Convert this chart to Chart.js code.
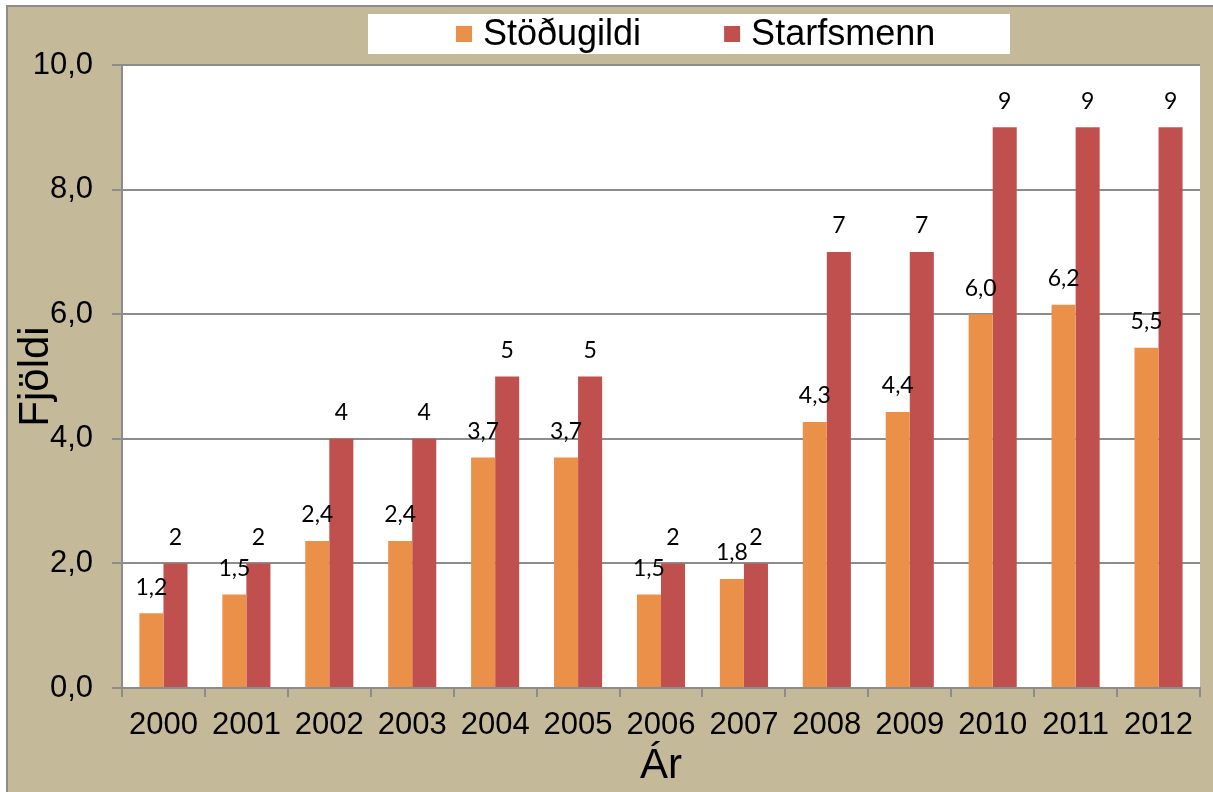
<!DOCTYPE html>
<html lang="is">
<head>
    <meta charset="UTF-8">
    <title>Stöðugildi og starfsmenn</title>
    <script src="https://cdn.jsdelivr.net/npm/chart.js"></script>
    <style>
        html, body {
            margin: 0;
            padding: 0;
            background: #ffffff;
        }
        canvas {
            display: block;
        }
    </style>
</head>
<body>
    <canvas id="chart" width="1213" height="792"></canvas>

    <script>
        // gögn lesin af myndinni
        const years = ['2000', '2001', '2002', '2003', '2004', '2005', '2006', '2007', '2008', '2009', '2010', '2011', '2012'];
        const stodugildi = [1.2, 1.5, 2.36, 2.36, 3.7, 3.7, 1.5, 1.75, 4.27, 4.43, 6.0, 6.15, 5.46];
        const starfsmenn = [2, 2, 4, 4, 5, 5, 2, 2, 7, 7, 9, 9, 9];
        const seriesNames = ['Stöðugildi', 'Starfsmenn'];

        const tan = '#c4ba9a';
        const gray = '#8c8c8c';
        const orange = '#eb9049';
        const red = '#c0504d';

        const comma = (v, d) => v.toFixed(d).replace('.', ',');

        // bakgrunnur, hvítur teiknireitur og skýringarkassi
        const backgroundPlugin = {
            id: 'background',
            beforeDraw(chart) {
                const ctx = chart.ctx;
                const area = chart.chartArea;
                ctx.save();
                ctx.fillStyle = '#ffffff';
                ctx.fillRect(0, 0, chart.width, chart.height);
                ctx.fillStyle = tan;
                ctx.fillRect(7, 6, chart.width - 7, chart.height - 6);
                ctx.strokeStyle = gray;
                ctx.lineWidth = 2;
                ctx.beginPath();
                ctx.moveTo(7, chart.height);
                ctx.lineTo(7, 6);
                ctx.lineTo(chart.width, 6);
                ctx.stroke();
                ctx.fillStyle = '#ffffff';
                ctx.fillRect(area.left, area.top, area.right - area.left, area.bottom - area.top);
                ctx.restore();
            }
        };

        // skýringar teiknaðar í hvítum kassa efst
        const legendPlugin = {
            id: 'boxLegend',
            afterDraw(chart) {
                const ctx = chart.ctx;
                const box = {left: 368, top: 14, right: 1010, bottom: 54};
                ctx.save();
                ctx.fillStyle = '#ffffff';
                ctx.fillRect(box.left, box.top, box.right - box.left, box.bottom - box.top);
                ctx.font = '36px "Liberation Sans", Arial, sans-serif';
                ctx.textBaseline = 'middle';
                ctx.textAlign = 'left';
                const sw = 16, gapText = 11, gapItem = 83;
                let x = 456;
                const cy = (box.top + box.bottom) / 2;
                chart.data.datasets.forEach(ds => {
                    ctx.fillStyle = ds.backgroundColor;
                    ctx.fillRect(x, cy - sw / 2, sw, sw);
                    ctx.fillStyle = '#000000';
                    ctx.fillText(ds.label, x + sw + gapText, cy + 1);
                    x += sw + gapText + ctx.measureText(ds.label).width + gapItem;
                });
                ctx.restore();
            }
        };

        // gildi fyrir ofan súlurnar
        const valueLabels = {
            id: 'valueLabels',
            afterDatasetsDraw(chart) {
                const ctx = chart.ctx;
                ctx.save();
                ctx.font = '23px Lato, "Noto Sans", sans-serif';
                ctx.fillStyle = '#000000';
                ctx.textAlign = 'center';
                ctx.textBaseline = 'middle';
                chart.data.datasets.forEach((ds, i) => {
                    const meta = chart.getDatasetMeta(i);
                    meta.data.forEach((bar, j) => {
                        const text = i === 0 ? comma(ds.data[j], 1) : String(ds.data[j]);
                        ctx.fillText(text, bar.x, bar.y - 26);
                    });
                });
                ctx.restore();
            }
        };

        new Chart(document.getElementById('chart'), {
            type: 'bar',
            data: {
                labels: years,
                datasets: [
                    {label: seriesNames[0], data: stodugildi, backgroundColor: orange},
                    {label: seriesNames[1], data: starfsmenn, backgroundColor: red}
                ]
            },
            options: {
                responsive: false,
                animation: false,
                devicePixelRatio: 1,
                layout: {padding: {top: 65, right: 13, left: 0, bottom: 0}},
                datasets: {
                    bar: {categoryPercentage: 0.58, barPercentage: 1.0}
                },
                plugins: {
                    legend: {display: false},
                    tooltip: {enabled: false}
                },
                scales: {
                    x: {
                        afterFit(scale) { scale.height = 104; },
                        grid: {
                            display: true,
                            drawOnChartArea: false,
                            drawTicks: true,
                            tickLength: 9,
                            offset: true,
                            color: gray,
                            lineWidth: 2
                        },
                        border: {display: true, color: gray, width: 2},
                        ticks: {
                            color: '#000000',
                            padding: 10,
                            maxRotation: 0,
                            font: {family: '"Liberation Sans", Arial, sans-serif', size: 31}
                        },
                        title: {
                            display: true,
                            text: 'Ár',
                            color: '#000000',
                            padding: {top: 0, bottom: 0},
                            font: {family: '"Liberation Sans", Arial, sans-serif', size: 42}
                        }
                    },
                    y: {
                        min: 0,
                        max: 10,
                        afterFit(scale) { scale.width = 122; },
                        grid: {
                            color: gray,
                            lineWidth: 2,
                            drawTicks: true,
                            tickLength: 10
                        },
                        border: {display: true, color: gray, width: 2},
                        ticks: {
                            stepSize: 2,
                            color: '#000000',
                            padding: 19,
                            font: {family: '"Liberation Sans", Arial, sans-serif', size: 31},
                            callback: v => comma(v, 1)
                        },
                        title: {
                            display: true,
                            text: 'Fjöldi',
                            color: '#000000',
                            padding: {top: 11, bottom: 0},
                            font: {family: '"Liberation Sans", Arial, sans-serif', size: 42}
                        }
                    }
                }
            },
            plugins: [backgroundPlugin, valueLabels, legendPlugin]
        });
    </script>
</body>
</html>
